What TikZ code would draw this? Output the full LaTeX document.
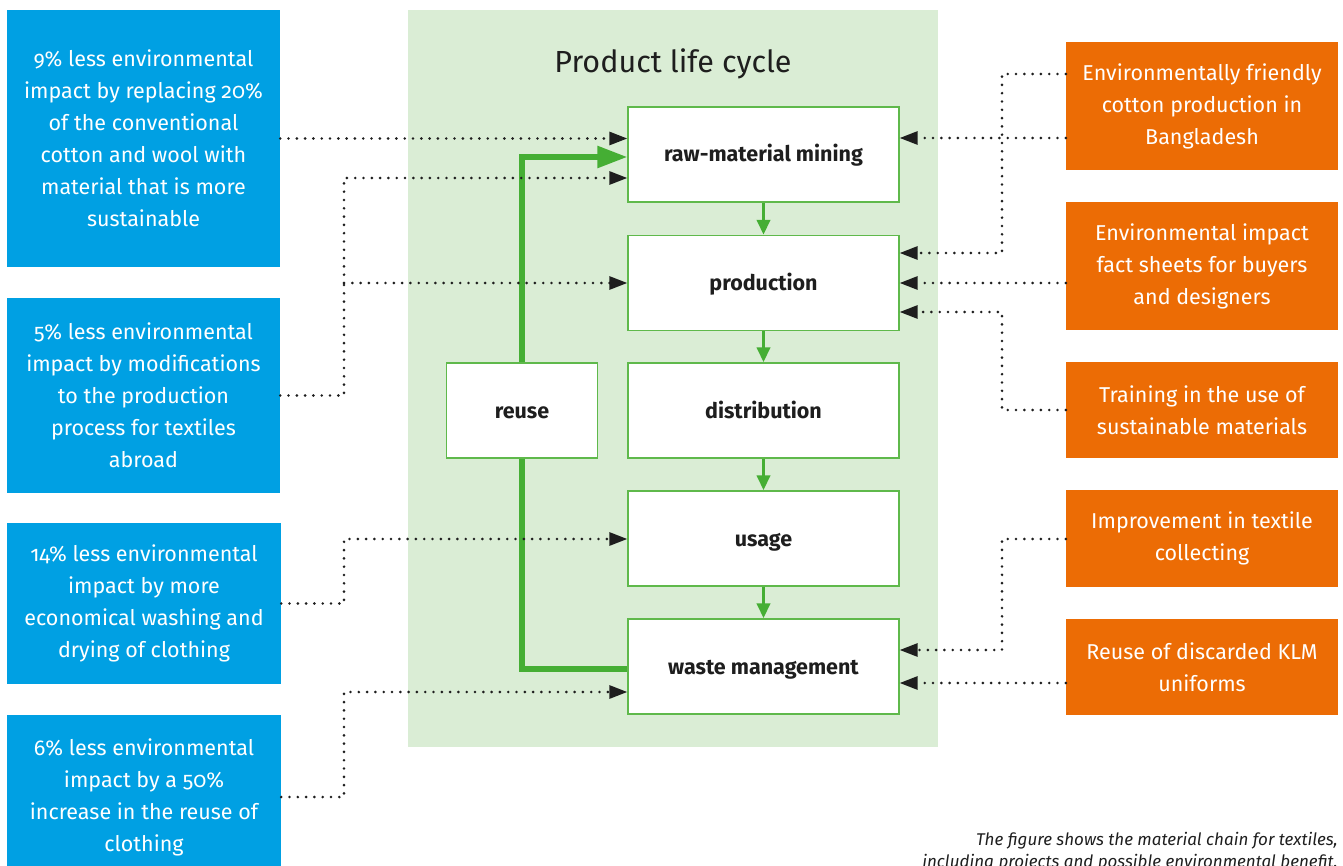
\documentclass[tikz,border=0pt]{standalone}
\usepackage{fontspec}
\setmainfont{Fira Sans}[Numbers=OldStyle]
\usetikzlibrary{arrows.meta}
\definecolor{bluec}{RGB}{0,160,227}
\definecolor{orangec}{RGB}{236,108,5}
\definecolor{panelc}{RGB}{218,237,213}
\definecolor{greenc}{RGB}{69,174,52}
\definecolor{boxline}{RGB}{95,185,75}
\definecolor{darkc}{RGB}{30,30,30}
\tikzset{
  bluebox/.style={fill=bluec, text=white, inner sep=0pt, align=center, minimum width=273pt, font=\fontsize{21.5}{32}\selectfont},
  orangebox/.style={fill=orangec, text=white, inner sep=0pt, align=center, minimum width=272pt, font=\fontsize{21.5}{32}\selectfont},
  stage/.style={draw=boxline, line width=1.3pt, fill=white, text=darkc, inner sep=0pt, minimum width=271pt, minimum height=95pt, text height=15pt, text depth=0pt, font=\bfseries\fontsize{21.5}{24}\selectfont},
  dotarr/.style={draw=darkc, line width=2.9pt, line cap=round, dash pattern=on 0pt off 8.3pt, -{Triangle[length=18pt,width=13pt]}},
  dotline/.style={draw=darkc, line width=2.9pt, line cap=round, dash pattern=on 0pt off 8.3pt},
  garr/.style={draw=greenc, line width=3.6pt, -{Triangle[length=15pt,width=13pt]}},
  gbig/.style={draw=greenc, line width=5.5pt, -{Triangle[length=30pt,width=21pt]}},
  gline/.style={draw=greenc, line width=5.5pt}
}
\begin{document}
\begin{tikzpicture}[x=1pt,y=-1pt]
\useasboundingbox (0,0) rectangle (1343,866);
% panel
\fill[panelc] (408,10) rectangle (938,747);
\node[text=darkc, font=\fontsize{30.5}{36}\selectfont] (title) at (673,64) {Product life cycle};
% stages
\node[stage] (raw) at (763.5,154.5) {raw-material mining};
\node[stage] (prod) at (763.5,283) {production};
\node[stage] (dist) at (763.5,410.5) {distribution};
\node[stage] (usage) at (763.5,538.5) {usage};
\node[stage] (waste) at (763.5,666.5) {waste management};
\node[stage, minimum width=151pt] (reuse) at (522,410.5) {reuse};
% green flow
\draw[garr] (raw.south) -- (prod.north);
\draw[garr] (prod.south) -- (dist.north);
\draw[garr] (dist.south) -- (usage.north);
\draw[garr] (usage.south) -- (waste.north);
\draw[gbig] (reuse.north) |- ([yshift=-2.5pt]raw.west);
\draw[gline] (reuse.south) |- ([yshift=-2.5pt]waste.west);
% blue boxes
\node[bluebox, minimum height=257pt] (b1) at (143.5,138.5) {9\% less environmental\\impact by replacing 20\%\\of the conventional\\cotton and wool with\\material that is more\\sustainable};
\node[bluebox, minimum height=195pt] (b2) at (143.5,395.5) {5\% less environmental\\impact by modifications\\to the production\\process for textiles\\abroad};
\node[bluebox, minimum height=161pt, minimum width=274pt] (b3) at (144,603.5) {14\% less environmental\\impact by more\\economical washing and\\drying of clothing};
\node[bluebox, minimum height=164pt, minimum width=274pt] (b4) at (144,797) {6\% less environmental\\impact by a 50\%\\increase in the reuse of\\clothing};
% orange boxes
\node[orangebox, minimum height=128pt] (o1) at (1202,106) {Environmentally friendly\\cotton production in\\Bangladesh};
\node[orangebox, minimum height=128pt] (o2) at (1202,266) {Environmental impact\\fact sheets for buyers\\and designers};
\node[orangebox, minimum height=96pt] (o3) at (1202,410) {Training in the use of\\sustainable materials};
\node[orangebox, minimum height=97pt] (o4) at (1202,538.5) {Improvement in textile\\collecting};
\node[orangebox, minimum height=96pt] (o5) at (1202,667) {Reuse of discarded KLM\\uniforms};
% left connectors
\coordinate (j2) at (344,395.5);
\coordinate (j3) at (344,603.5);
\coordinate (j4) at (344,797);
\draw[dotarr] (b1.east) -- (b1.east -| raw.west);
\draw[dotline] (b2.east) -- (j2) -- (344,283);
\draw[dotarr] (344,283) |- (raw.west |- 0,178);
\draw[dotarr] (344,283) -- (prod.west);
\draw[dotarr] (b3.east) -- (j3) |- (usage.west |- 0,539);
\draw[dotarr] (b4.east) -- (j4) |- (waste.west |- 0,692);
% right connectors
\coordinate (k1) at (1002,74);
\coordinate (k3) at (1002,410);
\coordinate (k4) at (1002,539);
\draw[dotarr] (o1.west |- 0,138) -- (raw.east |- 0,138);
\draw[dotarr] (o1.west |- 0,74) -- (k1) |- (prod.east |- 0,253);
\draw[dotarr] (o2.west |- 0,283) -- (prod.east);
\draw[dotarr] (o3.west) -- (k3) |- (prod.east |- 0,312);
\draw[dotarr] (o4.west |- 0,539) -- (k4) |- (waste.east |- 0,650);
\draw[dotarr] (o5.west |- 0,683) -- (waste.east |- 0,683);
% caption
\node[anchor=base east, inner sep=0pt, text=darkc, align=right, font=\itshape\fontsize{17}{22}\selectfont] (cap) at (1338,867) {The figure shows the material chain for textiles,\\including projects and possible environmental benefit.};
\end{tikzpicture}
\end{document}
